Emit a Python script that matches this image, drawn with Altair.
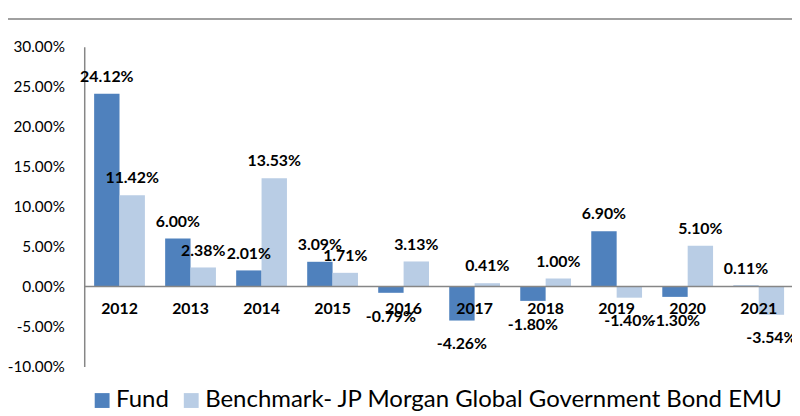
import altair as alt
import pandas as pd

years = ["2012", "2013", "2014", "2015", "2016", "2017", "2018", "2019", "2020", "2021"]
fund = [24.12, 6.00, 2.01, 3.09, -0.79, -4.26, -1.80, 6.90, -1.30, 0.11]
bench = [11.42, 2.38, 13.53, 1.71, 3.13, 0.41, 1.00, -1.40, 5.10, -3.54]
series_names = ["Fund", "Benchmark- JP Morgan Global Government Bond EMU"]
colors = ["#4F81BD", "#B9CDE5"]
y_ticks = [-10, -5, 0, 5, 10, 15, 20, 25, 30]

rows = []
for yr, f, b in zip(years, fund, bench):
    rows.append({"year": yr, "series": series_names[0], "value": f})
    rows.append({"year": yr, "series": series_names[1], "value": b})
df = pd.DataFrame(rows)
years_df = pd.DataFrame({"year": years})
zero_df = pd.DataFrame({"v": [0]})

W, H = 715, 323
FONT = "Lato"
x_scale = alt.Scale(domain=years, paddingInner=0.285, paddingOuter=0.1255, align=0.556)
y_scale = alt.Scale(domain=[-10, 30], nice=False, zero=False)
off_scale = alt.Scale(domain=series_names)

pct_expr = "(datum.value < 0 ? '-' : '') + format(abs(datum.value), '.2f') + '%'"

x_enc = alt.X("year:N", scale=x_scale, axis=None)
xo_enc = alt.XOffset("series:N", scale=off_scale)
y_enc = alt.Y(
    "value:Q",
    scale=y_scale,
    axis=alt.Axis(
        values=y_ticks,
        labelExpr=pct_expr,
        title=None,
        grid=False,
        ticks=False,
        labelPadding=20,
        domainColor="#868686",
        domainWidth=1.5,
        labelFont=FONT,
        labelFontSize=15.5,
        labelColor="#000000",
    ),
)

base = alt.Chart(df)

bars = base.mark_bar().encode(
    x=x_enc,
    xOffset=xo_enc,
    y=y_enc,
    color=alt.Color(
        "series:N",
        scale=alt.Scale(domain=series_names, range=colors),
        legend=alt.Legend(
            title=None,
            orient="none",
            direction="horizontal",
            legendX=6,
            legendY=345,
            symbolType="square",
            symbolSize=225,
            symbolStrokeWidth=0,
            labelFont=FONT,
            labelFontSize=24.2,
            labelColor="#000000",
            labelOffset=2,
            columnPadding=10,
            labelLimit=800,
            padding=0,
        ),
    ),
)

zero_rule = alt.Chart(zero_df).mark_rule(color="#868686", strokeWidth=1.5).encode(
    y=alt.Y("v:Q", scale=y_scale)
)

pos_labels = (
    base.transform_filter("datum.value >= 0")
    .transform_calculate(label=pct_expr)
    .mark_text(dy=-17, font=FONT, fontSize=16, fontWeight="bold", color="#000000")
    .encode(x=x_enc, xOffset=xo_enc, y=alt.Y("value:Q", scale=y_scale), text="label:N")
)
neg_labels = (
    base.transform_filter("datum.value < 0")
    .transform_calculate(label=pct_expr)
    .mark_text(dy=24, font=FONT, fontSize=16, fontWeight="bold", color="#000000")
    .encode(x=x_enc, xOffset=xo_enc, y=alt.Y("value:Q", scale=y_scale), text="label:N")
)

year_labels = (
    alt.Chart(years_df)
    .mark_text(dy=23, font=FONT, fontSize=16, fontWeight="bold", color="#000000")
    .encode(x=x_enc, y=alt.datum(0), text="year:N")
)

top_rule = alt.Chart(zero_df).mark_rule(color="#a0a0a0", strokeWidth=2).encode(
    x=alt.value(-77), x2=alt.value(W), y=alt.value(-28)
)

chart = (
    alt.layer(bars, zero_rule, pos_labels, neg_labels, year_labels, top_rule)
    .properties(
        width=W,
        height=H,
        autosize=alt.AutoSizeParams(type="none"),
        padding={"left": 77, "top": 37, "right": 0, "bottom": 48},
        background="white",
    )
    .configure_view(stroke=None)
)

chart.save("out.html", embed_options={"renderer": "svg", "actions": False})
